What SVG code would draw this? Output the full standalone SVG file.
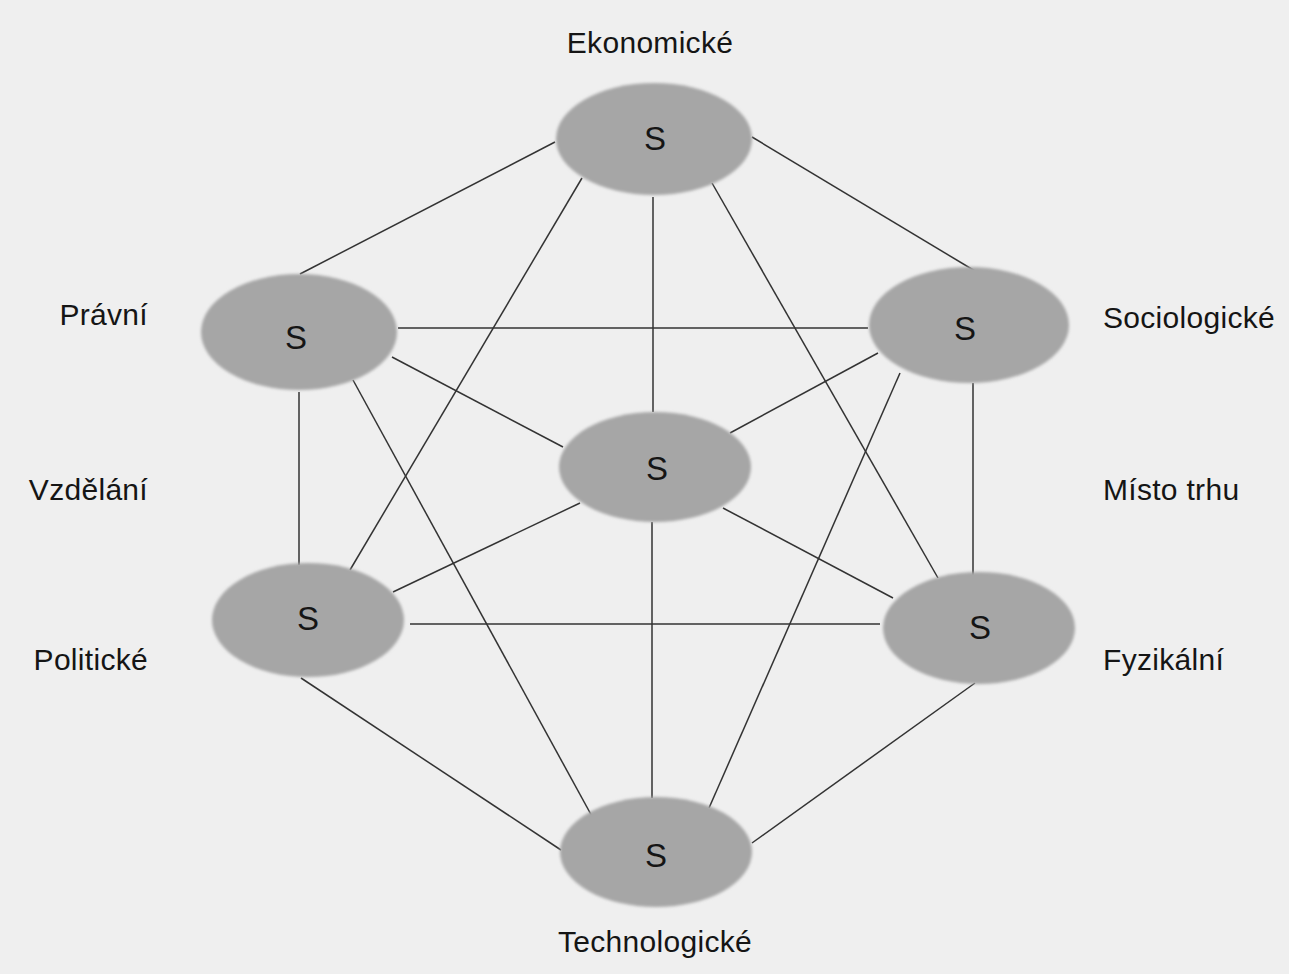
<svg xmlns="http://www.w3.org/2000/svg" width="1289" height="974" viewBox="0 0 1289 974">
<defs>
<filter id="soft" x="-10%" y="-10%" width="120%" height="120%"><feGaussianBlur stdDeviation="1.6"/></filter>
<style>
.bg{fill:#efefef}
.node ellipse{fill:#a6a6a6;filter:url(#soft)}
.node text{font-family:"Liberation Sans",Arial,sans-serif;font-size:33px;fill:#151515;text-anchor:middle}
.lbl{font-family:"Liberation Sans",Arial,sans-serif;font-size:30px;fill:#151515;letter-spacing:0.3px}
#connectors line{stroke:#333333;stroke-width:1.5}
</style>
</defs>
<rect class="bg" x="0" y="0" width="1289" height="974"/>
<g id="connectors">
<line x1="555" y1="142" x2="300" y2="274"/>
<line x1="752" y1="137" x2="975" y2="271"/>
<line x1="653" y1="197" x2="653" y2="412"/>
<line x1="582" y1="178" x2="350" y2="570"/>
<line x1="712" y1="183" x2="938" y2="578"/>
<line x1="398" y1="328" x2="868" y2="328"/>
<line x1="392" y1="357" x2="563" y2="447"/>
<line x1="299" y1="392" x2="299" y2="565"/>
<line x1="353" y1="380" x2="594" y2="820"/>
<line x1="878" y1="353" x2="730" y2="433"/>
<line x1="900" y1="373" x2="709" y2="808"/>
<line x1="973" y1="383" x2="973" y2="575"/>
<line x1="580" y1="503" x2="393" y2="592"/>
<line x1="723" y1="508" x2="893" y2="598"/>
<line x1="652" y1="522" x2="652" y2="798"/>
<line x1="410" y1="624" x2="880" y2="624"/>
<line x1="301" y1="678" x2="561" y2="850"/>
<line x1="975" y1="683" x2="752" y2="843"/>
</g>
<g id="node-ekonomicke" class="node"><ellipse cx="654" cy="139" rx="98" ry="56"/><text x="655" y="150">S</text></g>
<g id="node-pravni" class="node"><ellipse cx="299" cy="332" rx="98" ry="58"/><text x="296" y="349">S</text></g>
<g id="node-sociologicke" class="node"><ellipse cx="969" cy="325" rx="100" ry="58"/><text x="965" y="340">S</text></g>
<g id="node-stred" class="node"><ellipse cx="655" cy="467" rx="96" ry="55"/><text x="657" y="480">S</text></g>
<g id="node-politicke" class="node"><ellipse cx="308" cy="620" rx="96" ry="57"/><text x="308" y="630">S</text></g>
<g id="node-fyzikalni" class="node"><ellipse cx="979" cy="628" rx="96" ry="56"/><text x="980" y="639">S</text></g>
<g id="node-technologicke" class="node"><ellipse cx="656" cy="852" rx="96" ry="55"/><text x="656" y="867">S</text></g>
<g id="labels">
<text class="lbl" x="650" y="53" text-anchor="middle">Ekonomické</text>
<text class="lbl" x="148" y="325" text-anchor="end">Právní</text>
<text class="lbl" x="148" y="500" text-anchor="end">Vzdělání</text>
<text class="lbl" x="148" y="670" text-anchor="end">Politické</text>
<text class="lbl" x="1103" y="328">Sociologické</text>
<text class="lbl" x="1103" y="500">Místo trhu</text>
<text class="lbl" x="1103" y="670">Fyzikální</text>
<text class="lbl" x="655" y="952" text-anchor="middle">Technologické</text>
</g>
</svg>
